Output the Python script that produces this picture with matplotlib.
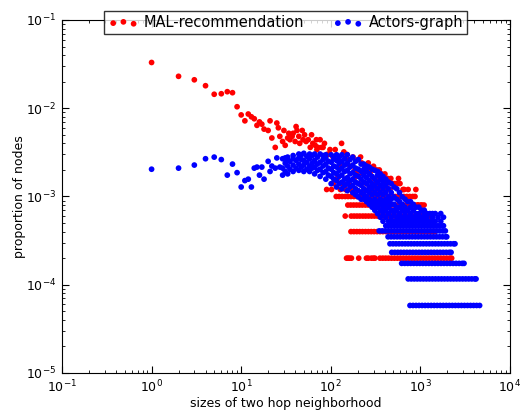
import matplotlib
matplotlib.use("Agg")

import matplotlib.pyplot as plt
import numpy as np

# Two-hop neighbourhood size distribution for two graphs.
# Values are node counts per size; proportion = count / number of nodes.

# MAL-recommendation graph
mal_nodes = 5000
mal_sizes = [1, 2, 3, 4, 5, 6, 7, 8, 9, 10, 11, 12, 13, 14, 15, 16, 17, 18, 20, 21,
             22, 24, 25, 26, 27, 29, 30, 31, 33, 34, 35, 37, 38, 40, 41, 42, 44, 45, 48, 49,
             51, 53, 56, 59, 61, 63, 67, 69, 70, 72, 76, 79, 82, 85, 90, 91, 93, 98, 102, 106,
             107, 112, 118, 120, 126, 128, 132, 135, 140, 146, 150, 151, 157, 160, 164, 165, 177, 182, 186, 188,
             194, 200, 205, 215, 222, 227, 236, 241, 250, 262, 263, 274, 290, 293, 300, 303, 320, 325, 345, 348,
             354, 370, 390, 395, 402, 420, 430, 458, 468, 495, 520, 548, 570, 592, 640, 660, 730, 890, 940, 1030,
             1100, 1330]
mal_counts = [165, 115, 105, 90, 72, 73, 77, 75, 52, 42, 36, 43, 40, 38, 32, 35, 33, 29, 28, 36,
              23, 18, 34, 30, 24, 21, 28, 19, 23, 26, 22, 24, 26, 21, 31, 28, 24, 20, 28, 22,
              25, 21, 22, 18, 25, 20, 19, 22, 17, 18, 22, 18, 18, 20, 6, 15, 15, 17, 6, 14,
              7, 17, 8, 13, 11, 6, 20, 7, 16, 6, 8, 15, 13, 7, 11, 6, 14, 8, 10, 6,
              9, 13, 7, 14, 12, 9, 6, 11, 7, 12, 10, 9, 6, 10, 11, 8, 7, 10, 6, 10,
              8, 9, 8, 6, 9, 7, 8, 6, 8, 7, 7, 7, 8, 7, 6, 6, 6, 6, 4, 3,
              4, 3]

# sizes shared by exactly 1, 2, 3, 4 and 5 nodes
mal_k1 = [150, 156, 162, 170, 205, 250, 262, 284, 300, 311, 354, 381, 410, 441, 476, 513,
          553, 596, 642, 692, 746, 804, 866, 933, 1006, 1084, 1168, 1259, 1357, 1462, 1576,
          1698, 1830, 1972, 2126, 2234]
mal_k2 = [168, 181, 195, 210, 226, 244, 263, 283, 305, 329, 355, 382, 412, 444, 479, 516,
          556, 599, 645, 695, 749, 807, 870, 937, 1010, 1089, 1173, 1264, 1362, 1456]
mal_k3 = [145, 169, 182, 196, 211, 228, 245, 264, 285, 307, 331, 357, 384, 414, 447, 481,
          519, 559, 602, 649, 700, 754, 813, 876, 944, 1017, 1096, 1181, 1273, 1335]
mal_k4 = [155, 167, 180, 194, 209, 225, 243, 262, 282, 304, 328, 353, 381, 410, 442, 477,
          514, 554, 597, 643, 693, 747, 805, 868, 935, 1008, 1040]
mal_k5 = [115, 124, 134, 145, 156, 168, 181, 196, 211, 228, 246, 265, 286, 308, 332, 358,
          386, 416, 449, 484, 522, 563, 607, 654, 705, 760, 820, 871]

# Actors graph
actors_nodes = 17180
actors_sizes = [1, 2, 3, 4, 5, 6, 7, 8, 9, 10, 11, 12, 13, 14, 15, 16, 17, 18, 20, 21,
                22, 24, 25, 27]
actors_counts = [35, 36, 39, 46, 48, 45, 30, 40, 32, 22, 26, 27, 22, 36, 37, 30, 37, 27, 43, 33,
                 38, 36, 47, 37]

# denser part: counts observed at each size
actors_cloud_sizes = [29, 31, 33, 35, 38, 41, 44, 47, 50, 54, 58, 62, 66, 71, 76, 82, 88, 94, 101, 108,
                      116, 124, 133, 143, 153, 164, 176, 189, 203, 218, 234, 251, 269, 289, 310, 333, 357, 383, 411, 441,
                      473, 508, 545, 585, 628, 674, 723, 776, 833, 894, 960, 1030, 1105, 1186, 1273, 1366, 1466, 1573, 1688, 1811]
actors_cloud_counts = [
    [30, 36, 46], [33, 41, 47], [31, 38, 44, 48], [35, 43], [33, 39, 46, 50],
    [36, 44], [34, 40, 47, 52], [37, 45, 51], [33, 39, 44, 53], [35, 42, 49],
    [33, 38, 46, 52], [36, 41, 50], [31, 37, 44, 52], [34, 40, 48], [29, 35, 42, 52],
    [32, 38, 45, 50], [27, 33, 40, 47, 51], [30, 36, 43], [24, 29, 35, 42, 51], [27, 32, 38, 46],
    [22, 26, 31, 37, 44, 51], [24, 29, 34, 41, 48], [21, 25, 30, 36, 43, 51], [23, 27, 33, 39, 46],
    [20, 24, 28, 34, 41, 51], [22, 26, 31, 37, 45], [19, 23, 27, 32, 39, 48], [18, 21, 25, 30, 36, 43],
    [17, 20, 24, 29, 35, 45], [16, 19, 23, 27, 33, 40], [16, 18, 21, 25, 30, 35, 40],
    [15, 17, 20, 24, 28, 33, 38], [14, 16, 19, 22, 26, 31, 37], [13, 15, 18, 21, 24, 29, 35],
    [12, 14, 16, 19, 23, 27, 34], [11, 13, 15, 18, 21, 25, 30, 33], [10, 12, 14, 16, 19, 23, 27, 31],
    [9, 11, 13, 15, 18, 21, 25, 29], [8, 10, 12, 14, 16, 19, 23, 27], [8, 9, 11, 13, 15, 17, 21, 25],
    [8, 9, 10, 12, 14, 16, 19, 24], [8, 9, 11, 12, 14, 17, 22], [8, 9, 10, 12, 13, 16, 21],
    [8, 9, 10, 11, 13, 15, 19], [8, 9, 10, 12, 14, 17], [8, 9, 10, 11, 13, 16], [8, 9, 10, 12, 15],
    [8, 9, 10, 11, 13, 15], [8, 9, 10, 12, 14], [8, 9, 10, 11, 13], [8, 9, 10, 11, 13],
    [8, 9, 10, 12], [8, 9, 10, 11, 12], [8, 9, 10, 11], [8, 9, 11], [8, 9, 10, 11],
    [8, 9, 11], [8, 10], [8, 9, 11], [8, 10],
]

# sizes shared by exactly 1..7 nodes
actors_k1 = [766, 828, 895, 967, 1045, 1130, 1221, 1320, 1427, 1542, 1667, 1802, 1948, 2105,
             2276, 2460, 2659, 2874, 3107, 3358, 3630, 3924, 4241, 4584]
actors_k2 = [731, 790, 854, 923, 998, 1079, 1166, 1260, 1362, 1473, 1592, 1721, 1860, 2011,
             2173, 2349, 2539, 2745, 2967, 3207, 3467, 3748, 4051, 4180]
actors_k3 = [618, 668, 722, 780, 843, 912, 985, 1065, 1151, 1244, 1345, 1454, 1572, 1699,
             1836, 1985, 2146, 2319, 2507, 2710, 2929, 3070]
actors_k4 = [479, 518, 560, 605, 654, 707, 764, 826, 893, 965, 1043, 1128, 1219, 1318, 1424,
             1540, 1664, 1799, 1945, 2102, 2200]
actors_k5 = [458, 495, 535, 578, 625, 676, 730, 789, 853, 922, 997, 1077, 1165, 1259, 1361,
             1471, 1590, 1719, 1858, 2008, 2171, 2347, 2434]
actors_k6 = [436, 471, 509, 551, 595, 643, 695, 752, 812, 878, 949, 1026, 1109, 1199, 1296,
             1401, 1514, 1637, 1769, 1912, 1970]
actors_k7 = [347, 375, 405, 438, 473, 512, 553, 598, 646, 699, 755, 816, 882, 954, 1031, 1115,
             1205, 1302, 1408, 1522, 1645, 1778, 1900]


def collect(sizes, counts, rows, cloud_sizes=None, cloud_counts=None):
    xs = list(sizes)
    ys = list(counts)
    if cloud_sizes is not None:
        for s, cs in zip(cloud_sizes, cloud_counts):
            xs += [s] * len(cs)
            ys += cs
    for k, row in enumerate(rows, start=1):
        xs += row
        ys += [k] * len(row)
    return np.array(xs, dtype=float), np.array(ys, dtype=float)


mal_x, mal_c = collect(mal_sizes, mal_counts, [mal_k1, mal_k2, mal_k3, mal_k4, mal_k5])
act_x, act_c = collect(actors_sizes, actors_counts,
                       [actors_k1, actors_k2, actors_k3, actors_k4, actors_k5, actors_k6, actors_k7],
                       actors_cloud_sizes, actors_cloud_counts)

fig = plt.figure(figsize=(5.32, 4.13), dpi=100)
ax = fig.add_axes([0.1165, 0.0969, 0.8421, 0.8547])

ax.scatter(mal_x, mal_c / mal_nodes, s=17, c="red", edgecolors="none", label="MAL-recommendation")
ax.scatter(act_x, act_c / actors_nodes, s=17, c="blue", edgecolors="none", label="Actors-graph")

ax.set_xscale("log")
ax.set_yscale("log")
ax.set_xlim(0.1, 1e4)
ax.set_ylim(1e-5, 0.1)

ax.tick_params(which="both", direction="in", top=True, right=True, labelsize=9)
ax.tick_params(which="major", length=5, pad=4)
ax.tick_params(which="minor", length=2.5)

ax.set_xlabel("sizes of two hop neighborhood", fontsize=9, labelpad=1)
ax.set_ylabel("proportion of nodes", fontsize=9, labelpad=0)

leg = ax.legend(loc="center", bbox_to_anchor=(0.5, 0.993), ncol=2, scatterpoints=3,
                fancybox=False, fontsize=10.5, borderaxespad=0, handletextpad=0.4,
                columnspacing=2.0, borderpad=0.3)
leg.get_frame().set_edgecolor("black")
leg.get_frame().set_linewidth(1.0)

fig.savefig("out.png", dpi=100)
plt.close(fig)
